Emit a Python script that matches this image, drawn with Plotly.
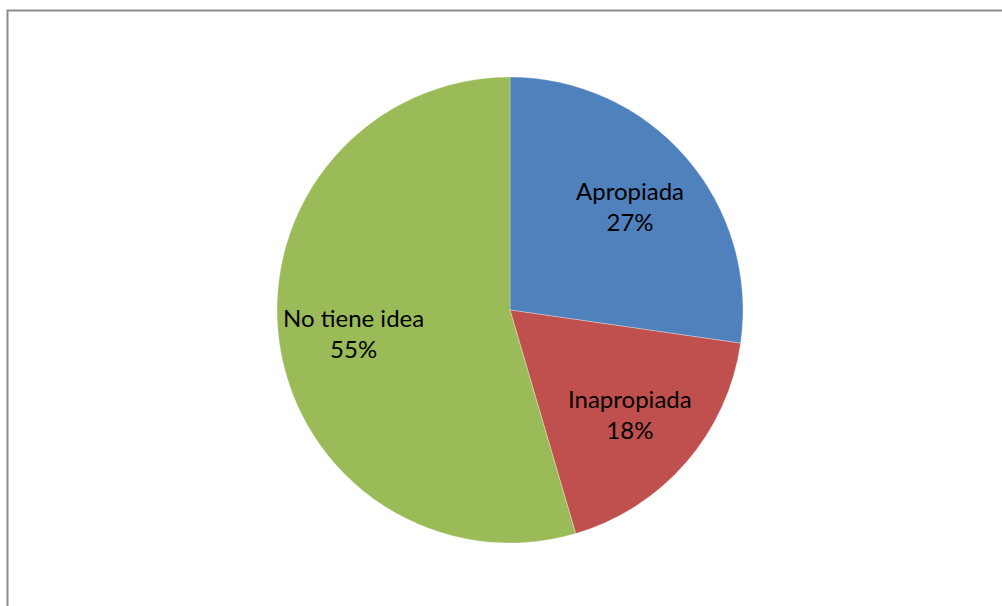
import math
import plotly.graph_objects as go

categories = ["Apropiada", "Inapropiada", "No tiene idea"]
values = [3, 2, 6]  # number of responses
colors = ["#4F81BD", "#C0504D", "#9BBB59"]

W, H = 1002, 606
cx, cy, r = 510, 310, 233  # pie centre and radius in pixels
label_radius = 0.68         # label distance from centre, as a fraction of r

fig = go.Figure(
    go.Pie(
        labels=categories,
        values=values,
        sort=False,
        direction="clockwise",
        rotation=0,
        marker=dict(colors=colors, line=dict(color="white", width=0.3)),
        textinfo="none",
        hoverinfo="label+percent",
        showlegend=False,
        domain=dict(
            x=[(cx - r) / W, (cx + r) / W],
            y=[(H - cy - r) / H, (H - cy + r) / H],
        ),
    )
)

# data labels placed at each slice's mid-angle
total = sum(values)
start = 0.0
for name, v in zip(categories, values):
    mid = (start + v / 2) / total * 2 * math.pi  # clockwise from 12 o'clock
    start += v
    px = cx + label_radius * r * math.sin(mid)
    py = cy - label_radius * r * math.cos(mid)
    fig.add_annotation(
        x=px / W, y=1 - py / H, xref="paper", yref="paper",
        text=f"{name}<br>{round(100 * v / total)}%",
        showarrow=False, align="center",
        xanchor="center", yanchor="middle",
        font=dict(family="Lato, Open Sans, sans-serif", size=24, color="black"),
    )

# chart-area border (open on the right and bottom edges)
fig.add_shape(
    type="rect",
    xref="paper", yref="paper",
    x0=7.5 / W, x1=1.05, y0=-0.05, y1=1 - 10.5 / H,
    line=dict(color="#8C8C8C", width=2),
    fillcolor="rgba(0,0,0,0)",
    layer="below",
)

fig.update_layout(
    width=W,
    height=H,
    margin=dict(l=0, r=0, t=0, b=0),
    paper_bgcolor="white",
    plot_bgcolor="white",
)

fig.write_html("out.html")
